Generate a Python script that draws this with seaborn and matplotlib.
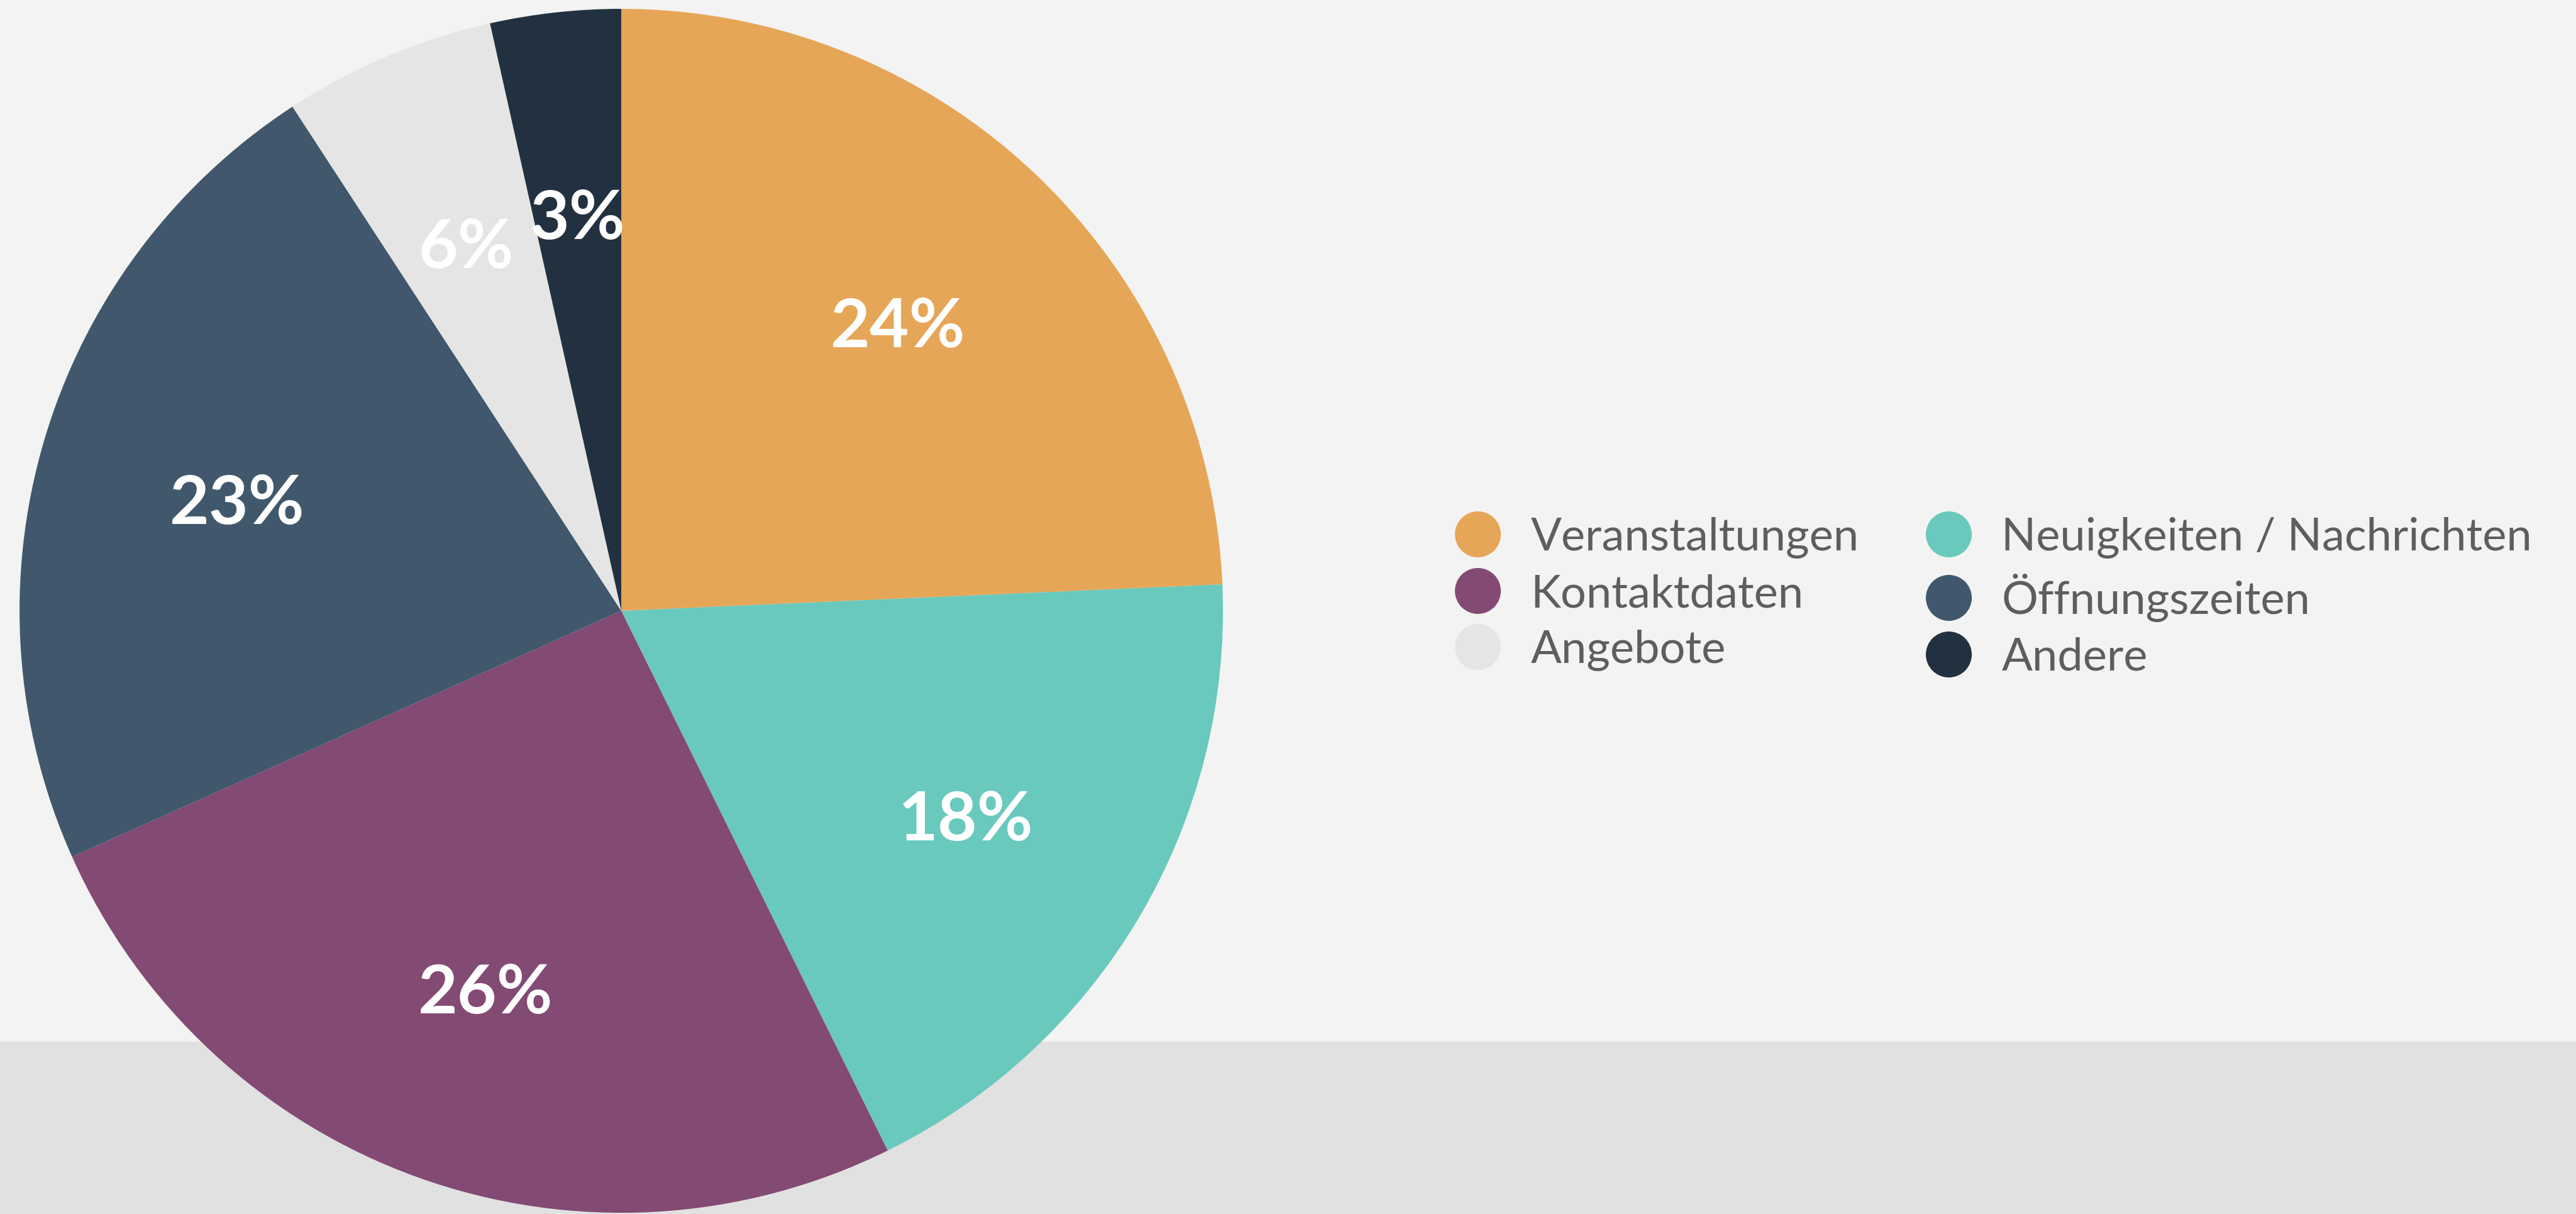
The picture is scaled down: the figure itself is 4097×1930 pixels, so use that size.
import matplotlib
matplotlib.use("Agg")
import matplotlib.pyplot as plt
from matplotlib.lines import Line2D
from matplotlib.patches import Rectangle
import seaborn as sns

categories = ["Veranstaltungen", "Neuigkeiten / Nachrichten", "Kontaktdaten",
              "Öffnungszeiten", "Angebote", "Andere"]
shares = [24.3, 18.4, 25.6, 22.5, 5.7, 3.5]
pct_labels = ["24%", "18%", "26%", "23%", "6%", "3%"]
colors = ["#E6A657", "#6AC9BD", "#834A73", "#41586C", "#E5E5E5", "#223140"]

sns.set_theme(style="white")
plt.rcParams['font.family'] = ['Lato', 'DejaVu Sans']
palette = sns.color_palette(colors)

fig = plt.figure(figsize=(40.97, 19.31), dpi=100)
fig.patch.set_facecolor("#F3F3F3")
# darker band along the bottom, behind the pie
fig.patches.append(Rectangle((0, 0), 1, 0.1419, transform=fig.transFigure,
                             facecolor="#E1E1E1", edgecolor="none", zorder=-1))

ax = fig.add_axes([0.00757, 0.001, 0.4672, 0.9912])
ax.set_zorder(1)
ax.set_facecolor("none")
wedges, texts, autotexts = ax.pie(
    shares, colors=palette, startangle=90, counterclock=False,
    autopct="%1.0f%%", pctdistance=0.665,
    wedgeprops=dict(linewidth=0), textprops=dict(color="white"))
for t, lab in zip(autotexts, pct_labels):
    t.set_text(lab)
    t.set_fontsize(78)
    t.set_fontweight("bold")
    t.set_va("center_baseline")
ax.set_xlim(-1, 1)
ax.set_ylim(-1, 1)
ax.set_aspect("equal")
ax.axis("off")

handles = [Line2D([], [], marker="o", linestyle="", markersize=52.6,
                  markerfacecolor=c, markeredgewidth=0) for c in palette]
order = [0, 2, 4, 1, 3, 5]
leg = fig.legend([handles[i] for i in order], [categories[i] for i in order],
                 loc="center left", bbox_to_anchor=(0.5648, 0.508), ncols=2,
                 frameon=False, prop=dict(weight="normal", size=52),
                 handlelength=1.0, handletextpad=0.67, columnspacing=1.47,
                 labelspacing=0.33, borderpad=0, borderaxespad=0)
for txt in leg.get_texts():
    txt.set_color("#5E5E5E")

fig.savefig("out.png", dpi=100, facecolor=fig.get_facecolor())
